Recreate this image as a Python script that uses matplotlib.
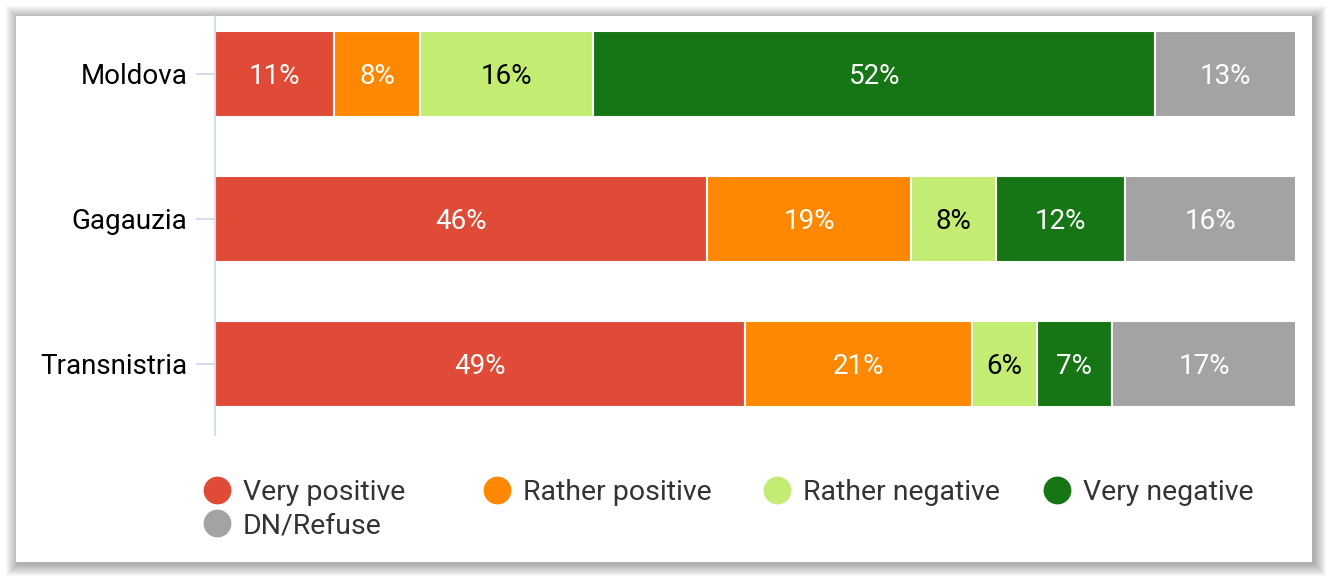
import matplotlib.pyplot as plt
from matplotlib.patches import Rectangle
from matplotlib.lines import Line2D

plt.rcParams['font.family'] = ['Roboto', 'DejaVu Sans']

# Data
regions = ['Moldova', 'Gagauzia', 'Transnistria']
series = ['Very positive', 'Rather positive', 'Rather negative', 'Very negative', 'DN/Refuse']
very_positive = [11, 46, 49]
rather_positive = [8, 19, 21]
rather_negative = [16, 8, 6]
very_negative = [52, 12, 7]
dn_refuse = [13, 16, 17]

colors = ['#e04b38', '#ff8800', '#c3ec72', '#167514', '#a3a3a3']
label_colors = ['white', 'white', 'black', 'white', 'white']

W, H = 1328, 578
fig = plt.figure(figsize=(W / 100, H / 100), dpi=100)
fig.patch.set_facecolor('white')

# card with soft shadow
cx0, cy0, cx1, cy1 = 16, 16, 1312, 562
for i in range(12, 0, -1):
    fig.add_artist(Rectangle(((cx0 - i + 2) / W, (H - cy1 - i - 2) / H),
                             (cx1 - cx0 + 2 * i) / W, (cy1 - cy0 + 2 * i) / H,
                             transform=fig.transFigure, facecolor='black',
                             edgecolor='none', alpha=0.028, zorder=0))
fig.add_artist(Rectangle((cx0 / W, (H - cy1) / H), (cx1 - cx0) / W, (cy1 - cy0) / H,
                         transform=fig.transFigure, facecolor='white',
                         edgecolor='none', zorder=1))

ax = fig.add_axes([215 / W, (H - 435) / H, (1296 - 215) / W, (435 - 16) / H])
ax.set_facecolor('none')
ax.set_zorder(2)

data = [very_positive, rather_positive, rather_negative, very_negative, dn_refuse]
totals = [sum(col) for col in zip(*data)]
lefts = [0.0] * len(regions)
for vals, name, c, lc in zip(data, series, colors, label_colors):
    widths = [v / t * 100 for v, t in zip(vals, totals)]
    bars = ax.barh(range(len(regions)), widths, left=lefts, height=0.595,
                   color=c, edgecolor='white', linewidth=1.5, label=name)
    for b, v in zip(bars, vals):
        ax.text(b.get_x() + b.get_width() / 2, b.get_y() + b.get_height() / 2,
                f'{v}%', ha='center', va='center_baseline', color=lc, fontsize=20)
    lefts = [l + w for l, w in zip(lefts, widths)]

ax.set_xlim(0, 100)
ax.set_ylim(2.49, -0.4)
ax.set_yticks(range(len(regions)))
ax.set_yticklabels(regions, fontsize=20, color='black')
ax.tick_params(axis='y', length=14, width=1.2, color='#ccd6eb', pad=6)
ax.set_xticks([])
for s in ['top', 'right', 'bottom']:
    ax.spines[s].set_visible(False)
ax.spines['left'].set_color('#ccd6eb')
ax.spines['left'].set_linewidth(1.2)

# legend, laid out row-wise
leg_x = [217, 497, 777, 1057, 217]
leg_y = [490, 490, 490, 490, 523]
for name, c, x, y in zip(series, colors, leg_x, leg_y):
    fig.add_artist(Line2D([x / W], [(H - y) / H], transform=fig.transFigure,
                          marker='o', markersize=19, color=c, linestyle='none', zorder=3))
    fig.text((x + 26) / W, (H - y) / H, name, ha='left', va='center_baseline',
             fontsize=20.5, color='#333333', zorder=3)

fig.savefig('out.png', dpi=100)
